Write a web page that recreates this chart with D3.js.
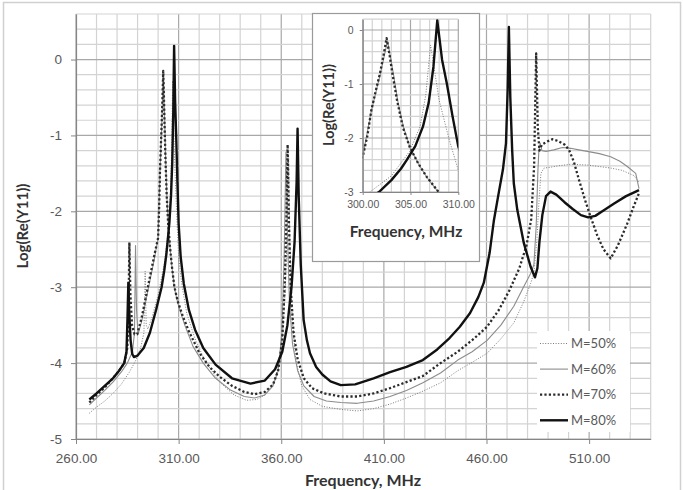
<!DOCTYPE html>
<html>
<head>
<meta charset="utf-8">
<script src="https://cdn.jsdelivr.net/npm/d3@7"></script>
<style>
  body { margin: 0; background: #fff; }
  svg { display: block; font-family: Lato, "Open Sans", sans-serif; }
</style>
</head>
<body>
<div id="chart"></div>
<script>
// frequency (MHz), log(Re(Y11)) pairs
var m50 = [[266.5,-4.66],[270,-4.58],[274,-4.5],[278,-4.4],[282,-4.28],[286,-4.12],[289,-3.97],[291.5,-3.8],[293.1,-3.6],[293.7,-2.79],[294.2,-3.5],[295,-3.55],[297,-3.4],[300,-3.1],[303,-2.7],[304.9,-2.25],[306,-1.79],[306.6,-1.2],[307.1,-0.28],[307.6,-0.85],[308,-1.3],[309,-2.0],[310,-2.6],[311.5,-2.95],[314,-3.35],[318,-3.68],[323,-3.98],[330,-4.25],[337,-4.42],[343,-4.49],[348,-4.48],[352,-4.42],[356,-4.28],[358.5,-4.05],[360.5,-3.7],[362,-3.0],[363,-2.2],[363.6,-1.3],[364.2,-2.4],[365.3,-3.4],[367,-3.95],[370,-4.3],[374,-4.48],[380,-4.57],[389,-4.61],[397,-4.63],[405,-4.6],[413,-4.54],[421,-4.46],[429,-4.37],[437.6,-4.26],[446,-4.1],[453,-3.99],[460.3,-3.87],[467,-3.68],[473.3,-3.47],[478,-3.2],[481.5,-2.95],[483.1,-2.81],[484.5,-2.4],[485.5,-1.9],[486.5,-1.5],[488,-1.43],[491,-1.42],[495,-1.4],[501,-1.38],[509,-1.39],[515,-1.41],[520.5,-1.43],[526,-1.46],[531.9,-1.53],[534.3,-1.62]];

var m60 = [[266.5,-4.55],[270,-4.46],[274,-4.36],[278,-4.25],[282,-4.12],[285,-4.0],[287.5,-3.85],[288.5,-3.6],[289,-2.45],[289.5,-3.3],[290.2,-3.62],[292,-3.45],[295,-3.05],[298,-2.65],[300,-2.35],[300.9,-1.5],[301.8,-0.85],[302.6,-0.2],[303.2,-0.8],[303.7,-1.35],[304.3,-1.82],[305,-2.2],[305.9,-2.5],[306.8,-2.75],[308,-3.02],[310,-3.25],[313,-3.5],[317,-3.78],[322,-4.0],[328,-4.2],[335,-4.35],[342,-4.44],[347,-4.46],[352,-4.42],[356,-4.3],[358.5,-4.1],[360.3,-3.6],[361.4,-2.6],[362.3,-1.22],[363,-2.3],[364,-3.2],[365.5,-3.75],[368,-4.1],[371,-4.3],[376,-4.44],[382,-4.5],[389,-4.52],[397,-4.53],[405,-4.5],[413,-4.44],[421,-4.36],[429,-4.26],[437.6,-4.13],[446,-3.96],[453,-3.85],[460.3,-3.7],[467,-3.5],[473.3,-3.25],[478,-3.0],[481.5,-2.82],[483.1,-2.7],[484.2,-2.2],[485,-1.5],[485.5,-1.2],[486.2,-1.1],[487,-1.2],[489,-1.21],[492.8,-1.19],[497,-1.16],[501,-1.17],[505,-1.19],[509.1,-1.21],[515,-1.24],[520.5,-1.28],[525,-1.34],[528.6,-1.41],[532.7,-1.5],[534.3,-1.7]];

var m70 = [[266.5,-4.52],[270,-4.42],[274,-4.32],[278,-4.2],[281,-4.1],[283.5,-4.0],[285,-3.8],[285.6,-3.3],[286,-2.41],[286.5,-3.1],[287.3,-3.5],[288.5,-3.62],[289.8,-3.62],[292,-3.4],[295,-3.0],[298,-2.6],[300,-2.35],[300.5,-1.95],[300.9,-1.49],[301.4,-1.1],[301.8,-0.81],[302.2,-0.45],[302.5,-0.15],[302.8,-0.45],[303.1,-0.8],[303.6,-1.31],[304.2,-1.8],[304.9,-2.16],[305.8,-2.47],[306.7,-2.72],[307.9,-2.99],[309.5,-3.18],[312,-3.38],[315,-3.58],[320,-3.86],[325,-4.05],[330,-4.18],[336,-4.3],[342,-4.38],[347,-4.41],[352,-4.38],[356,-4.28],[358.5,-4.1],[360.5,-3.7],[361.8,-2.9],[362.6,-2.0],[363.1,-1.12],[363.7,-2.1],[364.6,-3.0],[366,-3.6],[368,-3.95],[371,-4.2],[375,-4.33],[381,-4.4],[389,-4.44],[397,-4.44],[405,-4.4],[413,-4.33],[421,-4.25],[429,-4.17],[437.6,-4.0],[446,-3.85],[453.8,-3.68],[460.3,-3.52],[466,-3.3],[471,-3.05],[476,-2.75],[479.5,-2.45],[481.8,-2.1],[483.2,-1.4],[484.2,0.08],[485,-0.9],[485.8,-1.2],[487,-1.12],[489.6,-1.08],[492,-1.05],[494.5,-1.07],[498,-1.12],[500.2,-1.19],[502.6,-1.35],[505,-1.58],[508,-1.85],[510.7,-2.07],[514,-2.32],[517,-2.5],[520.5,-2.62],[524,-2.45],[528.6,-2.16],[531.5,-1.95],[534.3,-1.76]];

var m80 = [[266.5,-4.48],[270,-4.4],[274,-4.3],[278,-4.2],[281,-4.1],[283.5,-4.0],[284.6,-3.85],[285.1,-3.4],[285.5,-2.94],[285.9,-3.3],[286.6,-3.7],[287.4,-3.88],[288.2,-3.92],[290,-3.9],[293,-3.8],[296,-3.6],[299,-3.3],[301.7,-3.0],[303,-2.78],[304,-2.57],[304.6,-2.41],[305.5,-2.15],[306.3,-1.79],[306.9,-1.35],[307.4,-0.68],[307.8,0.18],[308.3,-0.55],[308.8,-0.99],[309.4,-1.6],[310,-2.16],[311,-2.6],[312.5,-2.95],[315,-3.3],[318,-3.56],[322,-3.8],[328,-4.02],[336,-4.2],[345,-4.27],[352,-4.23],[357,-4.08],[360.5,-3.85],[363,-3.5],[365,-3.0],[366.5,-2.4],[367.5,-1.6],[367.95,-0.91],[368.5,-1.8],[369.5,-2.7],[370.9,-3.43],[372.5,-3.7],[374,-3.87],[377,-4.05],[380,-4.15],[384,-4.24],[389,-4.29],[396,-4.28],[405,-4.2],[413,-4.12],[421,-4.05],[429,-3.96],[436,-3.82],[442,-3.67],[447,-3.52],[452,-3.34],[456,-3.13],[458.7,-2.94],[461.5,-2.55],[463.6,-2.12],[466,-1.75],[468,-1.45],[469.5,-1.1],[470.3,-0.4],[470.9,0.43],[471.6,-0.5],[472.5,-1.19],[473.3,-1.63],[475,-1.98],[478.2,-2.42],[481.5,-2.73],[483.6,-2.87],[484.8,-2.75],[485.8,-2.4],[487.2,-2.05],[489,-1.8],[491.2,-1.74],[494,-1.78],[498,-1.88],[502,-1.97],[506,-2.05],[509.5,-2.08],[513,-2.06],[517,-1.99],[522,-1.9],[528,-1.8],[534.3,-1.72]];

var seriesNames = ["M=50%", "M=60%", "M=70%", "M=80%"];
var xTicks = [260, 310, 360, 410, 460, 510];
var yTicks = [-5, -4, -3, -2, -1, 0];
var insetXTicks = [300, 305, 310];
var insetYTicks = [-3, -2, -1, 0];

var styles = [
    {stroke: "#7a7a7a", width: 1, dash: "1,1.6"},
    {stroke: "#8c8c8c", width: 1.1, dash: null},
    {stroke: "#2b2b2b", width: 2.3, dash: "2.2,2.2"},
    {stroke: "#111", width: 2.4, dash: null}
];
var data = [m50, m60, m70, m80];

var W = 683, H = 490;
var svg = d3.select("#chart").append("svg")
    .attr("width", W)
    .attr("height", H);

svg.append("rect")
    .attr("x", 3.5).attr("y", 2.5)
    .attr("width", 677).attr("height", 500)
    .attr("fill", "#fff").attr("stroke", "#d0d0d0").attr("stroke-width", 1.5);

function drawPanel(g, x, y, opt)
{
    var x0 = x.range()[0], x1 = x.range()[1];
    var y0 = y.range()[0], y1 = y.range()[1];

    // minor grid
    g.append("g").selectAll("line")
      .data(d3.range(x.domain()[0], x.domain()[1] + 1e-6, opt.xMinor))
      .enter().append("line")
      .attr("x1", d => x(d)).attr("x2", d => x(d))
      .attr("y1", y0).attr("y2", y1)
      .attr("stroke", d => opt.isMajorX(d) ? "#a8a8a8" : "#d3d3d3")
      .attr("stroke-width", 1.2);
    g.append("g").selectAll("line")
      .data(d3.range(0, Math.round((y.domain()[1] - y.domain()[0]) / opt.yMinor) + 1)
             .map(i => +(y.domain()[0] + i * opt.yMinor).toFixed(3)))
      .enter().append("line")
      .attr("x1", x0).attr("x2", x1)
      .attr("y1", d => y(d)).attr("y2", d => y(d))
      .attr("stroke", d => Number.isInteger(d) ? "#a8a8a8" : "#d3d3d3")
      .attr("stroke-width", 1.2);

    var clipId = "clip" + opt.id;
    g.append("clipPath").attr("id", clipId)
      .append("rect")
      .attr("x", x0).attr("y", y1)
      .attr("width", x1 - x0).attr("height", y0 - y1);

    var line = d3.line()
      .x(d => x(d[0]))
      .y(d => y(d[1]));

    g.append("g").attr("clip-path", "url(#" + clipId + ")")
      .selectAll("path")
      .data(data)
      .enter().append("path")
      .attr("d", line)
      .attr("fill", "none")
      .attr("stroke", (d, i) => styles[i].stroke)
      .attr("stroke-width", (d, i) => styles[i].width)
      .attr("stroke-dasharray", (d, i) => styles[i].dash)
      .attr("stroke-linejoin", "round");

    var xa = g.append("g")
      .attr("transform", "translate(0," + y0 + ")")
      .call(d3.axisBottom(x).tickValues(opt.xTicks)
            .tickFormat(d => d.toFixed(2))
            .tickSizeInner(opt.tick).tickSizeOuter(0).tickPadding(opt.xPad));
    var ya = g.append("g")
      .attr("transform", "translate(" + x0 + ",0)")
      .call(d3.axisLeft(y).tickValues(opt.yTicks)
            .tickFormat(d => String(d))
            .tickSizeInner(opt.tick).tickSizeOuter(0).tickPadding(opt.yPad));
    [xa, ya].forEach(a => {
        a.select(".domain").attr("stroke", "#868686").attr("stroke-width", 1.2);
        a.selectAll(".tick line").attr("stroke", "#868686");
        a.selectAll("text")
          .attr("fill", "#595959")
          .style("font-size", opt.font + "px");
    });

    g.append("text")
      .attr("x", opt.xTitle[0]).attr("y", opt.xTitle[1])
      .attr("text-anchor", "middle")
      .attr("font-weight", "bold")
      .attr("fill", "#333")
      .style("font-size", opt.titleFont + "px")
      .text("Frequency, MHz");
    g.append("text")
      .attr("transform", "translate(" + opt.yTitle[0] + "," + opt.yTitle[1] + ") rotate(-90)")
      .attr("text-anchor", "middle")
      .attr("font-weight", "bold")
      .attr("fill", "#333")
      .style("font-size", opt.yTitleFont + "px")
      .text("Log(Re(Y11))");
}

// main chart
var x = d3.scaleLinear().domain([260, 540]).range([76, 650.7]);
var y = d3.scaleLinear().domain([-5, 0.6]).range([439, 14]);
drawPanel(svg.append("g"), x, y, {
    id: "main", xMinor: 10, yMinor: 0.2,
    isMajorX: d => (d - 260) % 50 === 0,
    xTicks: xTicks, yTicks: yTicks,
    tick: 5, xPad: 9, yPad: 9, font: 13.5,
    xTitle: [363, 486], yTitle: [28, 226],
    titleFont: 16, yTitleFont: 15
});

// legend
var legend = svg.append("g");
legend.append("rect")
    .attr("x", 537).attr("y", 331)
    .attr("width", 93).attr("height", 101)
    .attr("fill", "#fff");
var rows = legend.selectAll("g.row")
    .data(seriesNames)
    .enter().append("g")
    .attr("class", "row")
    .attr("transform", (d, i) => "translate(0," + (343.5 + i * 25.6) + ")");
rows.append("line")
    .attr("x1", 540).attr("x2", 568)
    .attr("stroke", (d, i) => styles[i].stroke)
    .attr("stroke-width", (d, i) => styles[i].width)
    .attr("stroke-dasharray", (d, i) => styles[i].dash);
rows.append("text")
    .attr("x", 571).attr("dy", "0.35em")
    .attr("fill", "#595959")
    .style("font-size", "13px")
    .text(d => d);

// inset
svg.append("rect")
    .attr("x", 312.5).attr("y", 13.5)
    .attr("width", 167).attr("height", 248)
    .attr("fill", "#fff").attr("stroke", "#9a9a9a").attr("stroke-width", 1.2);
var xi = d3.scaleLinear().domain([300, 310]).range([362.7, 458.3]);
var yi = d3.scaleLinear().domain([-3, 0.2]).range([192, 19.2]);
drawPanel(svg.append("g"), xi, yi, {
    id: "inset", xMinor: 1, yMinor: 0.2,
    isMajorX: d => d % 5 === 0,
    xTicks: insetXTicks, yTicks: insetYTicks,
    tick: 3, xPad: 6, yPad: 6, font: 10.5,
    xTitle: [406, 237], yTitle: [334, 105],
    titleFont: 15.5, yTitleFont: 14.5
});
</script>
</body>
</html>
